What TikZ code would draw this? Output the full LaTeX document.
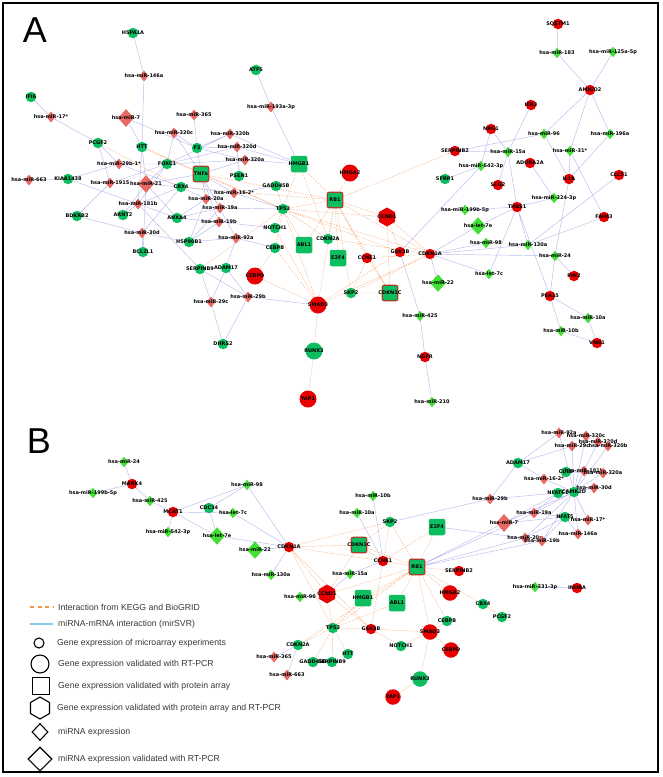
\documentclass[tikz,border=0pt]{standalone}
\usepackage{fontspec}
\setmainfont{Liberation Sans}
\newfontfamily\nodefont{DejaVu Sans}
\usepackage{tikz}
\usetikzlibrary{shapes.geometric, backgrounds}
\definecolor{genegreen}{RGB}{12,190,96}
\definecolor{mirgreen}{RGB}{64,224,52}
\definecolor{genered}{RGB}{232,0,0}
\definecolor{mirpink}{RGB}{232,104,100}
\definecolor{boxborder}{RGB}{170,62,40}
\definecolor{mirline}{RGB}{186,186,238}
\definecolor{keggline}{RGB}{246,178,132}
\definecolor{legblue}{RGB}{140,200,232}
\definecolor{legorange}{RGB}{236,150,70}
\definecolor{leggray}{RGB}{55,55,55}
\tikzset{
  lbl/.style={font=\nodefont\bfseries\fontsize{5}{5}\selectfont, inner sep=0pt, text=black},
  genesm/.style={circle, fill=genegreen, minimum size=10.5pt, inner sep=0pt, label={[lbl]center:#1}},
  genebig/.style={circle, fill=genegreen, minimum size=17pt, inner sep=0pt, label={[lbl]center:#1}},
  redsm/.style={circle, fill=genered, minimum size=10.5pt, inner sep=0pt, label={[lbl]center:#1}},
  redbig/.style={circle, fill=genered, minimum size=17pt, inner sep=0pt, label={[lbl]center:#1}},
  protbox/.style={rectangle, rounded corners=2pt, fill=genegreen, minimum size=16.5pt, inner sep=0pt, label={[lbl]center:#1}},
  protboxr/.style={protbox=#1, draw=boxborder, line width=1.2pt, minimum size=15.5pt},
  hexnode/.style={regular polygon, regular polygon sides=6, shape border rotate=30, fill=genered,
    minimum size=19pt, inner sep=0pt, label={[lbl]center:#1}},
  mirred/.style={diamond, fill=mirpink, minimum width=9pt, minimum height=11pt, inner sep=0pt, label={[lbl]center:#1}},
  mirredbig/.style={diamond, fill=mirpink, minimum width=16pt, minimum height=18pt, inner sep=0pt, label={[lbl]center:#1}},
  mirgrn/.style={diamond, fill=mirgreen, minimum width=9pt, minimum height=10.5pt, inner sep=0pt, label={[lbl]center:#1}},
  mirgrnbig/.style={diamond, fill=mirgreen, minimum width=16pt, minimum height=17.5pt, inner sep=0pt, label={[lbl]center:#1}},
  mirlink/.style={draw=mirline, line width=0.45pt},
  kegglink/.style={draw=keggline, line width=0.45pt, dash pattern=on 1.4pt off 1.1pt},
  panel/.style={font=\fontsize{36}{36}\selectfont, inner sep=0pt},
  legtext/.style={anchor=west, font=\fontsize{8.7}{10}\selectfont, text=leggray, inner sep=0pt},
  legshape/.style={draw=black, line width=1.1pt, inner sep=0pt}
}

\begin{document}
\begin{tikzpicture}[x=1pt, y=-1pt]
  \useasboundingbox (0,0) rectangle (662,777);
  \draw[line width=1.3pt] (3,3) rectangle (658,772);

  % Panel A
  \node[panel] (panA) at (35,30) {A};

  % A: left miRNA cluster
  \node[genesm=HSPA1A] (aHSPA1A) at (133,33) {};
  \node[mirred=hsa-miR-146a] (am146a) at (144,76) {};
  \node[genesm=ATF5] (aATF5) at (256,70) {};
  \node[genesm=IFI6] (aIFI6) at (31,97) {};
  \node[mirred=hsa-miR-193a-3p] (am193a) at (271,107) {};
  \node[mirred=hsa-miR-17*] (am17s) at (51,117) {};
  \node[mirredbig=hsa-miR-7] (am7) at (126,118) {};
  \node[mirred=hsa-miR-365] (am365) at (194,115) {};
  \node[mirred=hsa-miR-320c] (am320c) at (174,133) {};
  \node[mirred=hsa-miR-320b] (am320b) at (230,134) {};
  \node[genesm=PCGF2] (aPCGF2) at (98,143) {};
  \node[genesm=HTT] (aHTT) at (142,147) {};
  \node[genesm=F3] (aF3) at (197,148) {};
  \node[mirred=hsa-miR-320d] (am320d) at (237,147) {};
  \node[mirred=hsa-miR-320a] (am320a) at (245,160) {};
  \node[protbox=HMGB1] (aHMGB1) at (299,164) {};
  \node[mirred=hsa-miR-29b-1*] (am29b1) at (119,164) {};
  \node[genesm=FOXC1] (aFOXC1) at (167,164) {};
  \node[protboxr=TNFa] (aTNFa) at (201,174) {};
  \node[genesm=PSEN1] (aPSEN1) at (239,176) {};
  \node[mirred=hsa-miR-663] (am663) at (29,180) {};
  \node[genesm=KIAA1438] (aKIAA) at (68,179) {};
  \node[mirred=hsa-miR-1915] (am1915) at (110,183) {};
  \node[mirredbig=hsa-miR-21] (am21) at (146,184) {};
  \node[genesm=CBX4] (aCBX4) at (181,187) {};
  \node[genesm=GADD45B] (aGADD45B) at (276,186) {};
  \node[mirred=hsa-miR-16-2*] (am162) at (234,193) {};
  \node[mirred=hsa-miR-20a] (am20a) at (206,199) {};
  \node[mirred=hsa-miR-181b] (am181b) at (138,204) {};
  \node[mirred=hsa-miR-19a] (am19a) at (220,208) {};
  \node[genesm=TP53] (aTP53) at (283,209) {};
  \node[genesm=BDKRB2] (aBDKRB2) at (77,216) {};
  \node[genesm=ARNT2] (aARNT2) at (123,215) {};
  \node[genesm=ANXA4] (aANXA4) at (177,218) {};
  \node[mirred=hsa-miR-19b] (am19b) at (219,222) {};
  \node[genesm=NOTCH1] (aNOTCH1) at (275,228) {};
  \node[mirred=hsa-miR-30d] (am30d) at (142,233) {};
  \node[genesm=HSP90B1] (aHSP90B1) at (189,242) {};
  \node[mirred=hsa-miR-92a] (am92a) at (236,238) {};
  \node[genesm=CEBPB] (aCEBPB) at (275,248) {};
  \node[protbox=ABL1] (aABL1) at (304,245) {};
  \node[genesm=BCL2L1] (aBCL2L1) at (143,252) {};
  \node[genesm=SERPINB9] (aSERPINB9) at (200,269) {};
  \node[genesm=ADAM17] (aADAM17) at (226,268) {};
  \node[redbig=CEBPD] (aCEBPD) at (255,276) {};
  \node[mirred=hsa-miR-29c] (am29c) at (211,302) {};
  \node[mirred=hsa-miR-29b] (am29b) at (248,297) {};
  \node[redbig=SMAD3] (aSMAD3) at (318,305) {};
  \node[genesm=DHRS2] (aDHRS2) at (223,344) {};
  \node[genebig=RUNX3] (aRUNX3) at (314,351) {};
  \node[redbig=YAP1] (aYAP1) at (308,399) {};

  % A: core genes
  \node[redbig=HMGA2] (aHMGA2) at (350,173) {};
  \node[protboxr=RB1] (aRB1) at (335,200) {};
  \node[hexnode=CCND1] (aCCND1) at (387,217) {};
  \node[genesm=CDKN2A] (aCDKN2A) at (328,239) {};
  \node[redsm=GSK3B] (aGSK3B) at (400,252) {};
  \node[redsm=CDKN1A] (aCDKN1A) at (430,254) {};
  \node[protbox=E2F4] (aE2F4) at (338,258) {};
  \node[redsm=CCNE1] (aCCNE1) at (367,258) {};
  \node[genesm=SKP2] (aSKP2) at (351,293) {};
  \node[protboxr=CDKN1C] (aCDKN1C) at (390,293) {};
  \node[mirgrn=hsa-miR-425] (am425) at (420,316) {};
  \node[redsm=NGFR] (aNGFR) at (425,357) {};
  \node[mirgrn=hsa-miR-210] (am210) at (432,402) {};

  % A: right miRNA cluster
  \node[redsm=SQSTM1] (aSQSTM1) at (558,24) {};
  \node[mirgrn=hsa-miR-183] (am183) at (557,53) {};
  \node[mirgrn=hsa-miR-125a-5p] (am125a) at (613,52) {};
  \node[redsm=AMIGO2] (aAMIGO2) at (590,90) {};
  \node[redsm=IER3] (aIER3) at (531,105) {};
  \node[redsm=NRG1] (aNRG1) at (491,129) {};
  \node[mirgrn=hsa-miR-96] (am96) at (544,134) {};
  \node[mirgrn=hsa-miR-196a] (am196a) at (610,134) {};
  \node[redsm=SERPINB2] (aSERPINB2) at (455,151) {};
  \node[mirgrn=hsa-miR-15a] (am15a) at (508,152) {};
  \node[mirgrn=hsa-miR-31*] (am31s) at (570,151) {};
  \node[mirgrn=hsa-miR-542-3p] (am542) at (481,166) {};
  \node[redsm=ADORA2A] (aADORA2A) at (530,163) {};
  \node[genesm=SFRP1] (aSFRP1) at (445,179) {};
  \node[redsm=IL1A] (aIL1A) at (569,179) {};
  \node[redsm=CLCF1] (aCLCF1) at (619,175) {};
  \node[redsm=SCG2] (aSCG2) at (498,185) {};
  \node[mirgrn=hsa-miR-324-3p] (am324) at (554,198) {};
  \node[redsm=THBS1] (aTHBS1) at (517,207) {};
  \node[redsm=FAIM3] (aFAIM3) at (604,217) {};
  \node[mirgrn=hsa-miR-199b-5p] (am199b) at (465,210) {};
  \node[mirgrnbig=hsa-let-7e] (alet7e) at (478,226) {};
  \node[mirgrn=hsa-miR-98] (am98) at (486,243) {};
  \node[mirgrn=hsa-miR-130a] (am130a) at (528,245) {};
  \node[mirgrn=hsa-miR-24] (am24) at (555,256) {};
  \node[mirgrn=hsa-let-7c] (alet7c) at (489,274) {};
  \node[redsm=PIN2] (aPIN2) at (574,276) {};
  \node[mirgrnbig=hsa-miR-22] (am22) at (438,283) {};
  \node[redsm=PEA15] (aPEA15) at (550,296) {};
  \node[mirgrn=hsa-miR-10a] (am10a) at (588,318) {};
  \node[mirgrn=hsa-miR-10b] (am10b) at (561,331) {};
  \node[redsm=VNN1] (aVNN1) at (597,343) {};

  % Panel B
  \node[panel] (panB) at (39,441) {B};

  \node[mirgrn=hsa-miR-24] (bm24) at (124,462) {};
  \node[redsm=MARK4] (bMARK4) at (132,484) {};
  \node[mirgrn=hsa-miR-199b-5p] (bm199b) at (93,493) {};
  \node[mirgrn=hsa-miR-425] (bm425) at (150,501) {};
  \node[mirgrn=hsa-miR-98] (bm98) at (247,485) {};
  \node[redsm=MCAT1] (bMCAT1) at (173,512) {};
  \node[genesm=CDC34] (bCDC34) at (209,508) {};
  \node[mirgrn=hsa-let-7c] (blet7c) at (233,513) {};
  \node[mirgrn=hsa-miR-542-3p] (bm542) at (168,532) {};
  \node[mirgrnbig=hsa-let-7e] (blet7e) at (217,536) {};
  \node[mirgrnbig=hsa-miR-22] (bm22) at (255,550) {};
  \node[redsm=CDKN1A] (bCDKN1A) at (289,547) {};
  \node[mirgrn=hsa-miR-130a] (bm130a) at (271,575) {};
  \node[mirgrn=hsa-miR-96] (bm96) at (300,597) {};
  \node[hexnode=CCND1] (bCCND1) at (327,594) {};

  \node[mirred=hsa-miR-92a] (bm92a) at (559,433) {};
  \node[mirred=hsa-miR-320c] (bm320c) at (586,436) {};
  \node[mirred=hsa-miR-320d] (bm320d) at (598,442) {};
  \node[mirred=hsa-miR-29c] (bm29c) at (572,446) {};
  \node[mirred=hsa-miR-320b] (bm320b) at (608,446) {};
  \node[genesm=ADAM17] (bADAM17) at (518,463) {};
  \node[genesm=CUL5] (bCUL5) at (566,472) {};
  \node[mirred=hsa-miR-181b] (bm181b) at (584,471) {};
  \node[mirred=hsa-miR-320a] (bm320a) at (603,473) {};
  \node[mirred=hsa-miR-16-2*] (bm162) at (544,479) {};
  \node[mirgrn=hsa-miR-10b] (bm10b) at (373,496) {};
  \node[genesm=NFATC1] (bNFATC1) at (558,493) {};
  \node[genesm=CAMK2D] (bCAMK2D) at (574,492) {};
  \node[mirred=hsa-miR-30d] (bm30d) at (594,488) {};
  \node[mirred=hsa-miR-29b] (bm29b) at (490,499) {};
  \node[mirgrn=hsa-miR-10a] (bm10a) at (357,513) {};
  \node[mirred=hsa-miR-19a] (bm19a) at (534,513) {};
  \node[genesm=NFAT5] (bNFAT5) at (565,517) {};
  \node[mirred=hsa-miR-17*] (bm17s) at (588,520) {};
  \node[genesm=SKP2] (bSKP2) at (390,522) {};
  \node[mirredbig=hsa-miR-7] (bm7) at (504,523) {};
  \node[protbox=E2F4] (bE2F4) at (437,527) {};
  \node[mirred=hsa-miR-146a] (bm146a) at (578,534) {};
  \node[mirred=hsa-miR-20a] (bm20a) at (525,538) {};
  \node[mirred=hsa-miR-19b] (bm19b) at (542,541) {};
  \node[protboxr=CDKN1C] (bCDKN1C) at (359,545) {};
  \node[redsm=CCNE1] (bCCNE1) at (383,561) {};
  \node[protboxr=RB1] (bRB1) at (417,567) {};
  \node[redsm=SERPINB2] (bSERPINB2) at (459,571) {};
  \node[mirgrn=hsa-miR-15a] (bm15a) at (350,574) {};
  \node[mirgrn=hsa-miR-331-3p] (bm331) at (535,587) {};
  \node[redsm=INHBA] (bINHBA) at (577,588) {};
  \node[redbig=HMGA2, minimum size=15.5pt] (bHMGA2) at (450,593) {};
  \node[protbox=HMGB1] (bHMGB1) at (363,598) {};
  \node[protbox=ABL1] (bABL1) at (397,603) {};
  \node[genesm=CBX4] (bCBX4) at (483,604) {};
  \node[genesm=PCGF2] (bPCGF2) at (502,617) {};
  \node[genesm=CEBPB] (bCEBPB) at (447,621) {};
  \node[genesm=TP53] (bTP53) at (333,628) {};
  \node[redsm=GSK3B] (bGSK3B) at (371,629) {};
  \node[redbig=SMAD3, minimum size=15.5pt] (bSMAD3) at (430,632) {};
  \node[genesm=CDKN2A] (bCDKN2A) at (298,645) {};
  \node[genesm=NOTCH1] (bNOTCH1) at (401,646) {};
  \node[redbig=CEBPD, minimum size=15.5pt] (bCEBPD) at (451,650) {};
  \node[genesm=HTT] (bHTT) at (348,654) {};
  \node[mirred=hsa-miR-365] (bm365) at (274,657) {};
  \node[genesm=GADD45B] (bGADD45B) at (313,662) {};
  \node[genesm=SERPINB9] (bSERPINB9) at (332,662) {};
  \node[mirred=hsa-miR-663] (bm663) at (287,675) {};
  \node[genebig=RUNX3, minimum size=15.5pt] (bRUNX3) at (420,679) {};
  \node[redbig=YAP1, minimum size=15.5pt] (bYAP1) at (393,697) {};

  \begin{scope}[on background layer]
    % A: miRNA-mRNA links
    \draw[mirlink] (aHSPA1A)--(am146a) (am146a)--(aHTT) (am7)--(aHTT) (aHTT)--(am21) (aHTT)--(am181b)
      (aATF5)--(am193a) (am193a)--(aHMGB1) (aIFI6)--(am17s) (am17s)--(aPCGF2)
      (am7)--(aF3) (am365)--(aF3) (am320c)--(aFOXC1) (am320c)--(aF3) (am320c)--(aTNFa)
      (am320b)--(aF3) (am320b)--(aFOXC1) (am320b)--(aHMGB1)
      (am320d)--(aF3) (am320d)--(aHMGB1) (am320d)--(aFOXC1) (am320d)--(aPSEN1)
      (am320a)--(aF3) (am320a)--(aHMGB1) (am320a)--(aFOXC1) (am320a)--(aTNFa);
    \draw[mirlink] (aPCGF2)--(am29b1) (aPCGF2)--(am1915) (aKIAA)--(am663) (aKIAA)--(am29b1) (aKIAA)--(am181b)
      (am29b1)--(aFOXC1) (am29b1)--(aCBX4) (am1915)--(aBDKRB2) (am1915)--(aFOXC1)
      (am21)--(aFOXC1) (am21)--(aCBX4) (am21)--(aTNFa) (am21)--(aANXA4) (am21)--(aBCL2L1) (am21)--(aARNT2)
      (am181b)--(aARNT2) (am181b)--(aANXA4) (am181b)--(aCBX4) (am181b)--(aSERPINB9) (am181b)--(aFOXC1)
      (aBDKRB2)--(am30d) (am30d)--(aBCL2L1) (am30d)--(aCBX4) (am30d)--(aHSP90B1);
    \draw[mirlink] (am20a)--(aCBX4) (am20a)--(aTNFa) (am20a)--(aANXA4) (am20a)--(aHSP90B1) (am20a)--(aF3)
      (am19a)--(aTNFa) (am19a)--(aTP53) (am19a)--(aANXA4) (am19a)--(aHSP90B1)
      (am19b)--(aTNFa) (am19b)--(aANXA4) (am19b)--(aNOTCH1) (am19b)--(aHSP90B1)
      (am162)--(aTNFa) (am162)--(aCBX4) (am162)--(aGADD45B) (am162)--(aTP53)
      (am92a)--(aHSP90B1) (am92a)--(aCEBPB) (am92a)--(aADAM17) (am92a)--(aTNFa)
      (aSERPINB9)--(am29c) (aADAM17)--(am29c) (aADAM17)--(am29b) (aSERPINB9)--(am29b)
      (am29c)--(aDHRS2) (am29b)--(aDHRS2) (am29b)--(aSMAD3)
      (am425)--(aGSK3B) (am425)--(aNGFR) (aNGFR)--(am210);
    \draw[mirlink] (aSQSTM1)--(am183) (am183)--(aAMIGO2) (am125a)--(aAMIGO2) (aAMIGO2)--(am96)
      (aAMIGO2)--(am196a) (aAMIGO2)--(am31s) (aIER3)--(am15a) (aNRG1)--(am542) (aNRG1)--(am15a)
      (am96)--(aSERPINB2) (am96)--(aIL1A) (am196a)--(aIL1A) (am31s)--(aIL1A) (am31s)--(aFAIM3)
      (aSFRP1)--(am542) (am542)--(aGSK3B) (am15a)--(aSERPINB2) (am15a)--(aSCG2) (am15a)--(aTHBS1)
      (aADORA2A)--(am324) (aCLCF1)--(am130a)
      (aTHBS1)--(am199b) (aTHBS1)--(alet7e) (aTHBS1)--(alet7c) (aTHBS1)--(am130a)
      (aTHBS1)--(am324) (aTHBS1)--(aPEA15)
      (aCDKN1A)--(alet7e) (aCDKN1A)--(am98) (aCDKN1A)--(am130a) (aCDKN1A)--(am24) (aCDKN1A)--(am22)
      (aCDKN1A)--(alet7c) (am24)--(aPIN2) (am24)--(aIL1A) (am24)--(aPEA15) (am130a)--(aFAIM3)
      (aPEA15)--(am10a) (aPEA15)--(am10b) (am10a)--(aVNN1) (am10b)--(aVNN1);

    % A: KEGG / BioGRID links
    \draw[kegglink] (aHMGB1)--(aRB1) (aHMGB1)--(aTP53) (aHMGB1)--(aCDKN2A) (aHMGA2)--(aRB1)
      (aTNFa)--(aRB1) (aTNFa)--(aTP53) (aTNFa)--(aHTT) (aPCGF2)--(aCBX4) (aCBX4)--(aRB1)
      (aHTT)--(aTP53) (aGADD45B)--(aTP53) (aTP53)--(aRB1) (aTP53)--(aCDKN2A) (aTP53)--(aCCND1)
      (aTP53)--(aGSK3B) (aTP53)--(aCDKN1A) (aTP53)--(aNOTCH1) (aTP53)--(aSERPINB9)
      (aTP53)--(aABL1) (aTP53)--(aSMAD3) (aTP53)--(aCEBPB)
      (aRB1)--(aCCND1) (aRB1)--(aCDKN2A) (aRB1)--(aE2F4) (aRB1)--(aCCNE1) (aRB1)--(aSKP2)
      (aRB1)--(aCDKN1C) (aRB1)--(aSERPINB2) (aRB1)--(aCDKN1A) (aRB1)--(aSMAD3) (aRB1)--(aABL1)
      (aCCND1)--(aGSK3B) (aCCND1)--(aCDKN1A) (aCCND1)--(aCDKN1C) (aGSK3B)--(aSMAD3)
      (aCDKN1A)--(aCCNE1) (aCDKN1A)--(aSKP2) (aCDKN1A)--(aSMAD3) (aCDKN1A)--(aCDKN2A)
      (aCCNE1)--(aSKP2) (aCCNE1)--(aCDKN1C) (aCCNE1)--(aE2F4) (aSKP2)--(aCDKN1C)
      (aSMAD3)--(aCEBPD) (aSMAD3)--(aCEBPB) (aSMAD3)--(aNOTCH1) (aSMAD3)--(aRUNX3)
      (aRUNX3)--(aYAP1) (aCEBPD)--(aCEBPB);

    % B: miRNA-mRNA links
    \draw[mirlink] (bm24)--(bMARK4) (bMARK4)--(bm199b) (bMARK4)--(bm425) (bm425)--(bMCAT1)
      (bMCAT1)--(bm542) (bMCAT1)--(bm98) (bMCAT1)--(blet7e) (bMCAT1)--(blet7c)
      (bCDC34)--(bm98) (bCDC34)--(blet7e) (bm98)--(bCDKN1A) (blet7c)--(bCDKN1A)
      (blet7e)--(bCDKN1A) (bm22)--(bCDKN1A) (bm130a)--(bCDKN1A)
      (bm96)--(bCCND1) (bm15a)--(bCCND1) (bm15a)--(bCCNE1) (bm10b)--(bCCNE1) (bm10a)--(bCCNE1)
      (bSKP2)--(bm29b) (bE2F4)--(bm20a) (bm365)--(bCDKN2A) (bm663)--(bCDKN2A) (bm331)--(bINHBA);
    \draw[mirlink] (bm29b)--(bADAM17) (bm29b)--(bNFATC1) (bm7)--(bNFATC1) (bm7)--(bCAMK2D) (bm7)--(bNFAT5) (bm7)--(bRB1)
      (bm19a)--(bNFATC1) (bm19a)--(bCAMK2D) (bm19a)--(bNFAT5) (bm19a)--(bRB1)
      (bm20a)--(bNFAT5) (bm20a)--(bCAMK2D) (bm20a)--(bRB1) (bm19b)--(bNFAT5) (bm19b)--(bCAMK2D) (bm19b)--(bRB1)
      (bm146a)--(bCAMK2D) (bm146a)--(bNFAT5) (bm17s)--(bNFAT5) (bm17s)--(bCAMK2D)
      (bm30d)--(bCAMK2D) (bm30d)--(bNFATC1) (bm181b)--(bCUL5) (bm181b)--(bCAMK2D)
      (bm320a)--(bCUL5) (bm320a)--(bCAMK2D) (bm162)--(bCAMK2D) (bm162)--(bADAM17)
      (bm92a)--(bADAM17) (bm92a)--(bCAMK2D) (bm29c)--(bADAM17) (bm29c)--(bCAMK2D)
      (bm320c)--(bCAMK2D) (bm320d)--(bCAMK2D) (bm320b)--(bCAMK2D);

    % B: KEGG / BioGRID links
    \draw[kegglink] (bCDKN1A)--(bCCND1) (bCDKN1A)--(bCDKN1C) (bCDKN1A)--(bSKP2) (bCDKN1A)--(bCCNE1)
      (bCDKN1A)--(bTP53) (bCDKN1A)--(bGSK3B) (bCCND1)--(bRB1) (bCCND1)--(bCDKN1C) (bCCND1)--(bTP53)
      (bCCND1)--(bGSK3B) (bRB1)--(bCDKN1C) (bRB1)--(bSKP2) (bRB1)--(bE2F4) (bRB1)--(bCCNE1)
      (bRB1)--(bSERPINB2) (bRB1)--(bHMGA2) (bRB1)--(bCBX4) (bRB1)--(bCEBPB) (bRB1)--(bSMAD3)
      (bRB1)--(bTP53) (bRB1)--(bHMGB1) (bRB1)--(bABL1) (bRB1)--(bCDKN2A) (bCBX4)--(bPCGF2)
      (bCCNE1)--(bSKP2) (bCCNE1)--(bCDKN1C) (bCCNE1)--(bGSK3B) (bCCNE1)--(bE2F4) (bSKP2)--(bCDKN1C)
      (bTP53)--(bHMGB1) (bTP53)--(bABL1) (bTP53)--(bGSK3B) (bTP53)--(bCDKN2A) (bTP53)--(bGADD45B)
      (bTP53)--(bSERPINB9) (bTP53)--(bHTT) (bGSK3B)--(bSMAD3) (bNOTCH1)--(bSMAD3) (bNOTCH1)--(bGSK3B)
      (bSMAD3)--(bCEBPB) (bSMAD3)--(bCEBPD) (bSMAD3)--(bRUNX3) (bRUNX3)--(bYAP1);
  \end{scope}

  % Legend
  \draw[legorange, line width=1.2pt, dash pattern=on 4pt off 3.5pt] (30,607) -- (53,607);
  \node[legtext] (legkegg) at (58,607) {Interaction from KEGG and BioGRID};
  \draw[legblue, line width=1.2pt] (30,624) -- (53,624);
  \node[legtext] (legmir) at (58,624) {miRNA-mRNA interaction (mirSVR)};
  \node[legshape, circle, minimum size=10pt] (legc1) at (39,643) {};
  \node[legtext] (legt1) at (57,643) {Gene expression of microarray experiments};
  \node[legshape, circle, minimum size=18pt] (legc2) at (40,664) {};
  \node[legtext] (legt2) at (58,664) {Gene expression validated with RT-PCR};
  \node[legshape, rectangle, minimum size=17pt] (legsq) at (41,686) {};
  \node[legtext] (legt3) at (58,686) {Gene expression validated with protein array};
  \node[legshape, regular polygon, regular polygon sides=6, shape border rotate=30, minimum size=22pt] (leghex) at (40,708) {};
  \node[legtext] (legt4) at (57,708) {Gene expression validated with protein array and RT-PCR};
  \node[legshape, diamond, minimum width=16pt, minimum height=17pt] (legd1) at (40,732) {};
  \node[legtext] (legt5) at (58,732) {miRNA expression};
  \node[legshape, diamond, minimum size=24pt] (legd2) at (40,759) {};
  \node[legtext] (legt6) at (58,759) {miRNA expression validated with RT-PCR};
\end{tikzpicture}
\end{document}
